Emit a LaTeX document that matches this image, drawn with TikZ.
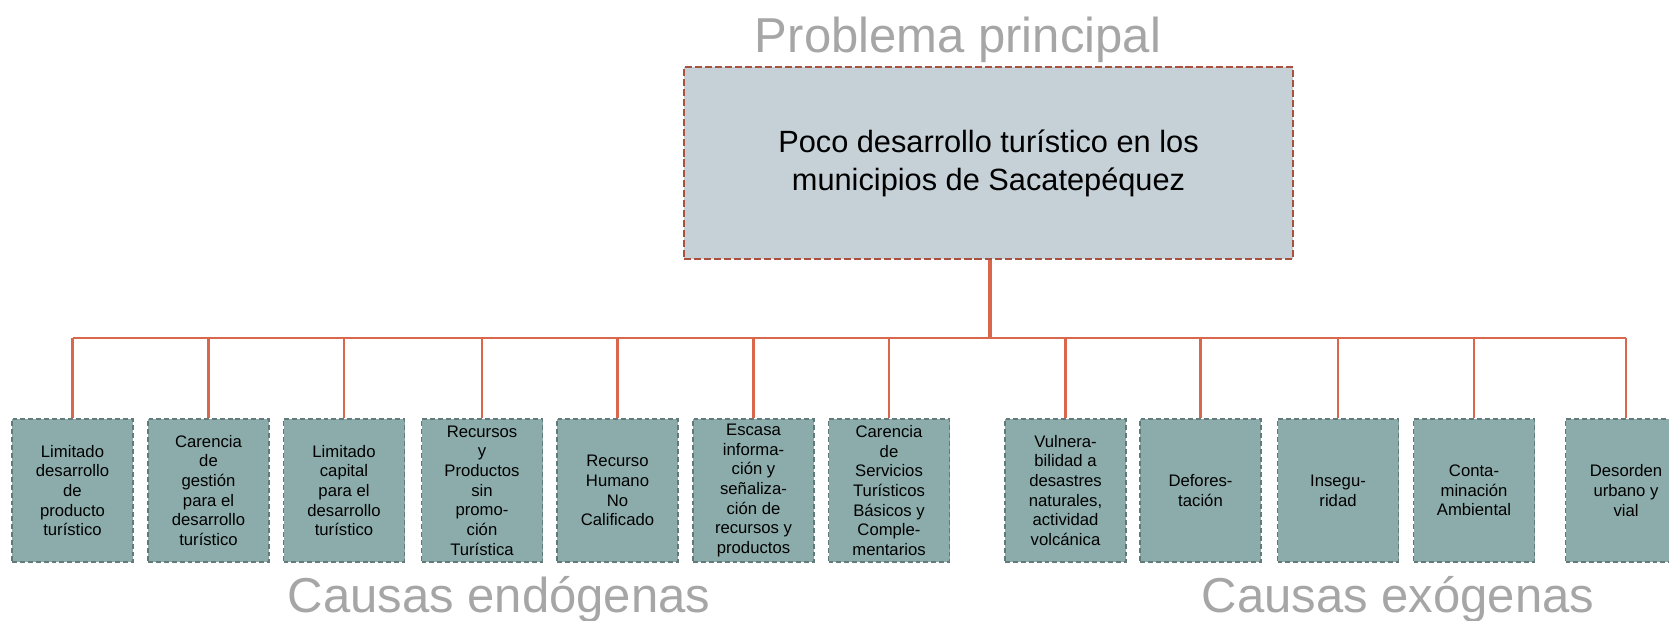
\documentclass[tikz,border=0pt]{standalone}
\usepackage{fontspec}
\setmainfont{Liberation Sans}

\definecolor{fondoprob}{HTML}{C5D0D7}
\definecolor{bordeprob}{HTML}{A9503F}
\definecolor{fondocausa}{HTML}{8BACAB}
\definecolor{bordecausa}{HTML}{627B7A}
\definecolor{enlacecol}{HTML}{D9674B}
\definecolor{grisgrande}{HTML}{A6A6A6}

\tikzset{
  problema/.style={draw=bordeprob, fill=fondoprob, line width=1.1pt, dash pattern=on 4pt off 1.7pt,
    minimum width=12.18cm, minimum height=3.84cm, align=center, font=\fontsize{17.5}{21.6}\selectfont},
  causa/.style={draw=bordecausa, fill=fondocausa, line width=1.1pt, dash pattern=on 2.8pt off 1.7pt,
    minimum width=2.42cm, minimum height=2.86cm, inner sep=0pt, align=center, font=\fontsize{9.5}{11.2}\selectfont},
  titulo/.style={text=grisgrande, anchor=base, inner sep=0pt, font=\fontsize{27.9}{30}\selectfont},
  enlace/.style={draw=enlacecol, line width=1.2pt}
}

\begin{document}
\begin{tikzpicture}[scale=1]
        \clip (0,0) rectangle (33.38,12.4);

        % Problema principal
        \node[titulo] (tprob) at (19.16, 11.34) {Problema principal};
        \node[problema] (prob) at (19.77, 9.14) {Poco desarrollo turístico en los\\municipios de Sacatepéquez};

        % Causas endógenas
        \node[causa] (c1) at (1.45, 2.59) {Limitado\\desarrollo\\de\\producto\\turístico};
        \node[causa] (c2) at (4.17, 2.59) {Carencia\\de\\gestión\\para el\\desarrollo\\turístico};
        \node[causa] (c3) at (6.88, 2.59) {Limitado\\capital\\para el\\desarrollo\\turístico};
        \node[causa] (c4) at (9.64, 2.59) {Recursos\\y\\Productos\\sin\\promo-\\ción\\Turística};
        \node[causa] (c5) at (12.35, 2.59) {Recurso\\Humano\\No\\Calificado};
        \node[causa] (c6) at (15.07, 2.59) {Escasa\\informa-\\ción y\\señaliza-\\ción de\\recursos y\\productos};
        \node[causa] (c7) at (17.78, 2.59) {Carencia\\de\\Servicios\\Turísticos\\Básicos y\\Comple-\\mentarios};

        % Causas exógenas
        \node[causa] (c8) at (21.31, 2.59) {Vulnera-\\bilidad a\\desastres\\naturales,\\actividad\\volcánica};
        \node[causa] (c9) at (24.01, 2.59) {Defores-\\tación};
        \node[causa] (c10) at (26.76, 2.59) {Insegu-\\ridad};
        \node[causa] (c11) at (29.48, 2.59) {Conta-\\minación\\Ambiental};
        \node[causa] (c12) at (32.52, 2.59) {Desorden\\urbano y\\vial};

        % Etiquetas
        \node[titulo] (tendo) at (9.98, 0.16) {Causas endógenas};
        \node[titulo] (texo) at (27.96, 0.16) {Causas exógenas};

        % Conexiones
        \coordinate (bus) at (19.8, 5.64);
        \draw[enlace, line width=2.3pt] (prob.south -| bus) -- (bus);
        \draw[enlace, line width=1.5pt] (c1.north |- bus) -- (c12.north |- bus);
        \draw[enlace] (c1.north |- bus) -- (c1.north)
                      (c2.north |- bus) -- (c2.north)
                      (c3.north |- bus) -- (c3.north)
                      (c4.north |- bus) -- (c4.north)
                      (c5.north |- bus) -- (c5.north)
                      (c6.north |- bus) -- (c6.north)
                      (c7.north |- bus) -- (c7.north)
                      (c8.north |- bus) -- (c8.north)
                      (c9.north |- bus) -- (c9.north)
                      (c10.north |- bus) -- (c10.north)
                      (c11.north |- bus) -- (c11.north)
                      (c12.north |- bus) -- (c12.north);
    \end{tikzpicture}
\end{document}
